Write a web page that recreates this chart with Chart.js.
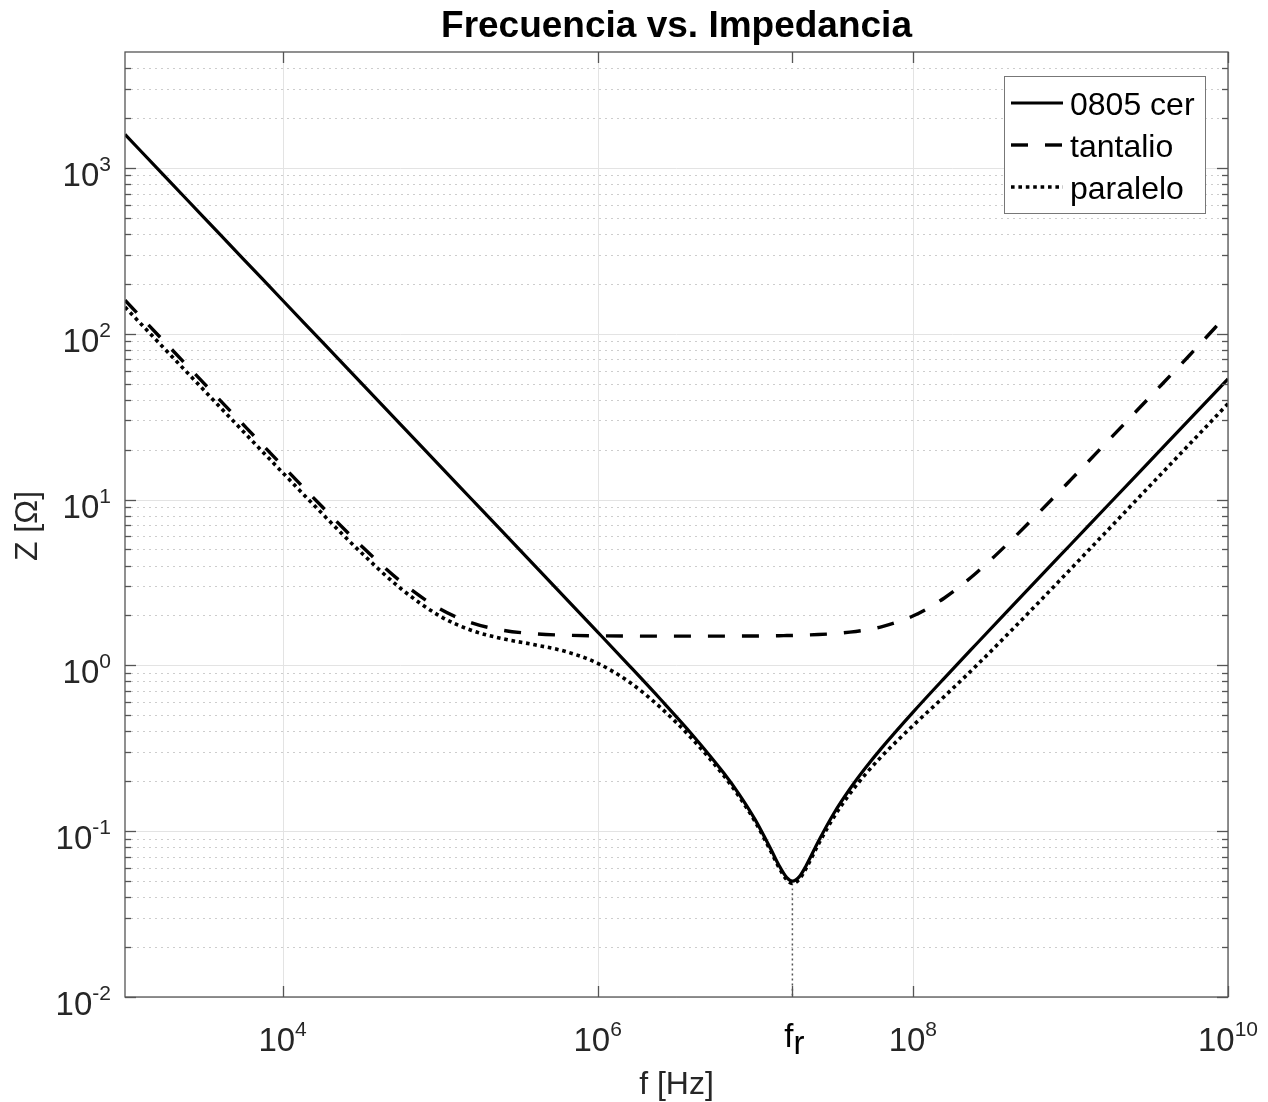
<!DOCTYPE html>
<html>
<head>
<meta charset="utf-8">
<script src="https://cdn.jsdelivr.net/npm/chart.js@4.4.1/dist/chart.umd.min.js"></script>
<style>
  body { margin: 0; background: #fff; }
  #wrap { width: 1268px; height: 1102px; position: relative; }
</style>
</head>
<body>
<div id="wrap"><canvas id="myChart"></canvas></div>
<script>
// Frecuencia [Hz]
const freq = [1000, 1778, 3162, 5623, 10000, 17783, 31623, 56234, 1e5, 158489, 251189, 398107, 630957,
    1e6, 1584893, 2511886, 3981072, 6309573, 7943282, 1e7, 12589254, 14125375, 15848932, 17200000,
    19054607, 20892961, 25118864, 31622777, 39810717, 50118723, 63095734, 1e8, 158489319, 251188643,
    398107171, 630957344, 1e9, 1778279410, 3162277660, 5623413252, 1e10];

// |Z| [ohm]
const zCeramic = [1592, 895.0, 503.3, 283.0, 159.2, 89.50, 50.33, 28.30, 15.91, 10.04, 6.335, 3.996, 2.520,
    1.587, 0.9969, 0.6222, 0.3818, 0.2242, 0.1657, 0.1170, 0.07747, 0.06234, 0.05243, 0.0500,
    0.05323, 0.06128, 0.08668, 0.1287, 0.1797, 0.2412, 0.3158, 0.5206, 0.8380, 1.336,
    2.123, 3.368, 5.339, 9.498, 16.89, 30.04, 53.41];
const zTantalio = [159.2, 89.51, 50.35, 28.34, 15.99, 9.075, 5.252, 3.203, 2.186, 1.804, 1.627, 1.551, 1.520,
    1.507, 1.502, 1.500, 1.500, 1.501, 1.502, 1.504, 1.508, 1.510, 1.513, 1.515,
    1.519, 1.523, 1.534, 1.554, 1.586, 1.634, 1.709, 1.984, 2.549, 3.595,
    5.391, 8.342, 13.09, 23.18, 41.16, 73.15, 132.0];
const zParalelo = [144.7, 81.37, 45.78, 25.76, 14.54, 8.249, 4.773, 2.908, 1.979, 1.624, 1.445, 1.331, 1.209,
    1.029, 0.7937, 0.5553, 0.3596, 0.2160, 0.1604, 0.1136, 0.07522, 0.0605, 0.05083, 0.04842,
    0.05146, 0.05912, 0.08317, 0.1222, 0.1681, 0.2209, 0.2813, 0.4325, 0.650, 0.9891,
    1.534, 2.406, 3.797, 6.740, 11.98, 21.29, 37.86];

const seriesNames = ["0805 cer", "tantalio", "paralelo"];

// resonance marker
const fr = 1.72e7;
const zMin = 0.0484;

// ticks
const xTickVals = [1e4, 1e6, fr, 1e8, 1e10];
const xTickLabels = [["10", "4"], ["10", "6"], ["f", "r"], ["10", "8"], ["10", "10"]];
const yTickVals = [0.01, 0.1, 1, 10, 100, 1000];
const yTickExp = ["-2", "-1", "0", "1", "2", "3"];

const yMinor = [];
for (let d = -2; d <= 3; d++) {
    for (let m = 2; m <= 9; m++) {
        let v = m * Math.pow(10, d);
        if (v < 5000) yMinor.push(v);
    }
}

const FONT = "'Liberation Sans', Arial, Helvetica, sans-serif";

function hline(ctx, x1, x2, y) {
    ctx.beginPath(); ctx.moveTo(x1, y); ctx.lineTo(x2, y); ctx.stroke();
}
function vline(ctx, x, y1, y2) {
    ctx.beginPath(); ctx.moveTo(x, y1); ctx.lineTo(x, y2); ctx.stroke();
}

const lineStyles = [
    { dash: [], width: 3.2 },
    { dash: [17, 17], width: 3.4 },
    { dash: [3.6, 3.8], width: 3.6 }
];

const matlabAxes = {
    id: "matlabAxes",
    beforeDatasetsDraw(chart) {
        const { ctx, chartArea: a, scales: { x, y } } = chart;
        ctx.save();
        ctx.lineWidth = 1;

        // minor grid, dotted
        ctx.strokeStyle = "#cdcdcd";
        ctx.setLineDash([2, 4]);
        yMinor.forEach(v => {
            let py = Math.round(y.getPixelForValue(v)) + 0.5;
            hline(ctx, a.left, a.right, py);
        });

        // major grid
        ctx.setLineDash([]);
        ctx.strokeStyle = "#e3e3e3";
        yTickVals.forEach(v => {
            let py = Math.round(y.getPixelForValue(v)) + 0.5;
            hline(ctx, a.left, a.right, py);
        });
        xTickVals.filter(v => v !== fr).forEach(v => {
            let px = Math.round(x.getPixelForValue(v)) + 0.5;
            vline(ctx, px, a.top, a.bottom);
        });
        ctx.restore();
    },
    afterDatasetsDraw(chart) {
        const { ctx, chartArea: a, scales: { x, y } } = chart;
        ctx.save();

        // axes box and ticks
        ctx.strokeStyle = "#555";
        ctx.lineWidth = 1.3;
        ctx.strokeRect(a.left, a.top, a.right - a.left, a.bottom - a.top);
        yTickVals.forEach(v => {
            let py = Math.round(y.getPixelForValue(v)) + 0.5;
            hline(ctx, a.left, a.left + 11, py);
            hline(ctx, a.right - 11, a.right, py);
        });
        yMinor.forEach(v => {
            let py = Math.round(y.getPixelForValue(v)) + 0.5;
            hline(ctx, a.left, a.left + 6, py);
            hline(ctx, a.right - 6, a.right, py);
        });
        xTickVals.forEach(v => {
            let px = Math.round(x.getPixelForValue(v)) + 0.5;
            vline(ctx, px, a.bottom - 11, a.bottom);
            vline(ctx, px, a.top, a.top + 11);
        });

        // tick labels
        const big = "33px " + FONT, sup = "21px " + FONT;
        ctx.fillStyle = "#262626";
        ctx.textAlign = "left";
        ctx.textBaseline = "alphabetic";
        yTickVals.forEach((v, i) => {
            let py = y.getPixelForValue(v) + 18;
            ctx.font = sup;
            let we = ctx.measureText(yTickExp[i]).width;
            ctx.font = big;
            let wb = ctx.measureText("10").width;
            let x0 = 111 - we - wb;
            ctx.fillText("10", x0, py);
            ctx.font = sup;
            ctx.fillText(yTickExp[i], x0 + wb, py - 15);
        });
        xTickVals.forEach((v, i) => {
            let px = x.getPixelForValue(v);
            let [base, extra] = xTickLabels[i];
            let by = a.bottom + 54;
            if (v === fr) {
                ctx.font = "33px " + FONT;
                let wf = ctx.measureText(base).width, wr = ctx.measureText(extra).width;
                let x0 = px - (wf + wr) / 2 + 2;
                ctx.fillStyle = "#000";
                ctx.fillText(base, x0, by - 4);
                ctx.fillText(extra, x0 + wf, by + 3);
                ctx.fillStyle = "#262626";
            } else {
                ctx.font = sup;
                let we = ctx.measureText(extra).width;
                ctx.font = big;
                let wb = ctx.measureText(base).width;
                let x0 = px - (wb + we) / 2;
                ctx.fillText(base, x0, by);
                ctx.font = sup;
                ctx.fillText(extra, x0 + wb, by - 15);
            }
        });

        // axis labels
        ctx.font = "32px " + FONT;
        ctx.textAlign = "center";
        ctx.fillText("f [Hz]", (a.left + a.right) / 2, 1094);
        ctx.save();
        ctx.translate(37, 526);
        ctx.rotate(-Math.PI / 2);
        ctx.fillText("Z [\u03A9]", 0, 0);
        ctx.restore();

        // title
        ctx.fillStyle = "#000";
        ctx.font = "bold 37px " + FONT;
        ctx.fillText("Frecuencia vs. Impedancia", (a.left + a.right) / 2, 37);

        // legend
        const lx = 1004, ly = 76, lw = 201, lh = 137;
        ctx.fillStyle = "#fff";
        ctx.fillRect(lx, ly, lw, lh);
        ctx.strokeStyle = "#777";
        ctx.lineWidth = 1;
        ctx.strokeRect(lx + 0.5, ly + 0.5, lw, lh);
        ctx.textAlign = "left";
        ctx.font = "32px " + FONT;
        seriesNames.forEach((name, i) => {
            let ry = 103 + i * 42;
            ctx.strokeStyle = "#000";
            ctx.lineWidth = lineStyles[i].width;
            ctx.setLineDash(lineStyles[i].dash);
            hline(ctx, 1011, 1063, ry);
            ctx.setLineDash([]);
            ctx.fillStyle = "#000";
            ctx.fillText(name, 1070, ry + 12);
        });
        ctx.restore();
    }
};

function toPoints(vals) {
    return freq.map((f, i) => ({ x: f, y: vals[i] }));
}

new Chart(document.getElementById("myChart"), {
    type: "line",
    data: {
        datasets: [
            {
                label: seriesNames[0],
                data: toPoints(zCeramic),
                borderColor: "#000",
                borderWidth: lineStyles[0].width,
                borderDash: lineStyles[0].dash,
                order: 3
            },
            {
                label: seriesNames[1],
                data: toPoints(zTantalio),
                borderColor: "#000",
                borderWidth: lineStyles[1].width,
                borderDash: lineStyles[1].dash,
                order: 2
            },
            {
                label: seriesNames[2],
                data: toPoints(zParalelo),
                borderColor: "#000",
                borderWidth: lineStyles[2].width,
                borderDash: lineStyles[2].dash,
                order: 1
            },
            {
                label: "fr",
                data: [{ x: fr, y: zMin }, { x: fr, y: 0.01 }],
                borderColor: "#555",
                borderWidth: 1.5,
                borderDash: [2, 3],
                order: 10
            }
        ]
    },
    options: {
        responsive: true,
        maintainAspectRatio: false,
        animation: false,
        layout: { padding: { left: 125, right: 40, top: 52, bottom: 105 } },
        elements: {
            point: { radius: 0 },
            line: { cubicInterpolationMode: "monotone" }
        },
        plugins: {
            legend: { display: false },
            tooltip: { enabled: false }
        },
        scales: {
            x: { type: "logarithmic", min: 1e3, max: 1e10, display: false },
            y: { type: "logarithmic", min: 0.01, max: 5000, display: false }
        }
    },
    plugins: [matlabAxes]
});
</script>
</body>
</html>
